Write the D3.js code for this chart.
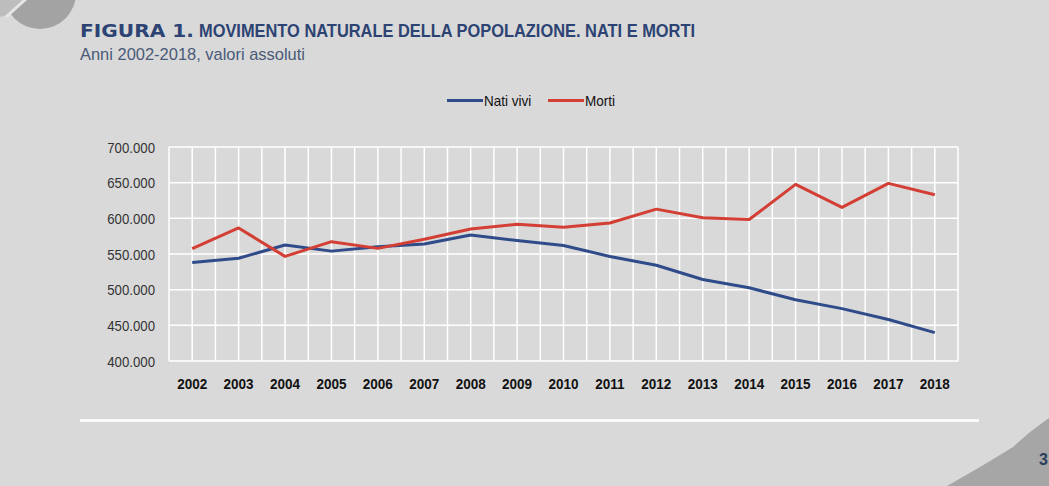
<!DOCTYPE html>
<html><head><meta charset="utf-8">
<script src="https://cdn.jsdelivr.net/npm/d3@7"></script>
<style>
html,body{margin:0;padding:0;background:#d9d9d9;}
svg{display:block;}
</style></head>
<body>
<svg id="chart" width="1049" height="486"></svg>
<script>
const years = ["2002","2003","2004","2005","2006","2007","2008","2009","2010","2011","2012","2013","2014","2015","2016","2017","2018"];
const natiVivi = [538198,544063,562599,554022,560010,563933,576659,568857,561944,546585,534186,514308,502596,485780,473438,458151,439747];
const morti = [557393,586468,546658,567304,557892,570801,585126,591663,587488,593402,612883,600744,598364,647571,615261,649061,633133];
const yTicks = [400000,450000,500000,550000,600000,650000,700000];
const seriesNames = ["Nati vivi","Morti"];
const seriesColors = ["#2f4b8a","#d33f34"];

(function(){
const svg = d3.select("#chart");
const W = 1049, H = 486;
const FONT = "'Liberation Sans','Arial',sans-serif";
function condense(sel, k){
  sel.each(function(){
    const w = this.getComputedTextLength();
    d3.select(this).attr("textLength", w*k).attr("lengthAdjust","spacingAndGlyphs");
  });
}
svg.append("rect").attr("width",W).attr("height",H).attr("fill","#d9d9d9");

// decorative top-left circle
svg.append("circle").attr("cx",40).attr("cy",-7).attr("r",36).attr("fill","#a3a3a3");
svg.append("path").attr("d","M0,-10 L30,-10 L26,0 L8,15 L0,17 Z").attr("fill","#bdbdbd");
svg.append("line").attr("x1",6).attr("y1",17).attr("x2",27).attr("y2",-2).attr("stroke","#e6e6e6").attr("stroke-width",3);

// bottom-right decorative shape
svg.append("path").attr("d","M1049,418 L1030,432 L1013,447 L995,458 L980,467 L947,486 L1049,486 Z").attr("fill","#a6a6a6");

// title
svg.append("text").attr("x",80).attr("y",37).attr("fill","#2c4373")
  .attr("font-family","'DejaVu Sans', sans-serif").attr("font-weight","900").attr("font-size","18.5px")
  .attr("textLength",114).attr("lengthAdjust","spacingAndGlyphs").text("FIGURA 1.");
svg.append("text").attr("x",199).attr("y",37).attr("fill","#2c4373")
  .attr("font-family",FONT).attr("font-weight","bold").attr("font-size","19px")
  .attr("textLength",496).attr("lengthAdjust","spacingAndGlyphs")
  .text("MOVIMENTO NATURALE DELLA POPOLAZIONE. NATI E MORTI");

svg.append("text").attr("x",80).attr("y",60).attr("fill","#4a5a78")
  .attr("font-family",FONT).attr("font-size","17px")
  .attr("textLength",225).attr("lengthAdjust","spacingAndGlyphs")
  .text("Anni 2002-2018, valori assoluti");

// plot
const pL = 169, pR = 958, pT = 147, pB = 361;
const x = d3.scaleBand().domain(years).range([pL,pR]).padding(0);
const y = d3.scaleLinear().domain([400000,700000]).range([pB,pT]);

const g = svg.append("g");
g.selectAll("line.h").data(yTicks).join("line")
  .attr("x1",pL).attr("x2",pR).attr("y1",d=>y(d)).attr("y2",d=>y(d))
  .attr("stroke","#ffffff").attr("stroke-width",1.5);
const vx = [];
years.forEach(yr=>{vx.push(x(yr)); vx.push(x(yr)+x.bandwidth()/2);});
vx.push(pR);
g.selectAll("line.v").data(vx).join("line")
  .attr("x1",d=>d).attr("x2",d=>d).attr("y1",pT).attr("y2",pB)
  .attr("stroke","#ffffff").attr("stroke-width",1.5);

const fmt = d3.formatLocale({decimal:",",thousands:".",grouping:[3],currency:["","€"]}).format(",");
const yl = svg.append("g").selectAll("text").data(yTicks).join("text")
  .attr("x",155).attr("y",d=>y(d)+5.5).attr("text-anchor","end")
  .attr("font-family",FONT)
  .attr("font-size","15px").attr("fill","#333")
  .text(d=>fmt(d));
condense(yl, 0.88);

const xl = svg.append("g").selectAll("text").data(years).join("text")
  .attr("x",d=>x(d)+x.bandwidth()/2).attr("y",389).attr("text-anchor","middle")
  .attr("font-family",FONT)
  .attr("font-weight","bold").attr("font-size","15px").attr("fill","#111")
  .text(d=>d);
condense(xl, 0.9);

const line = d3.line().x((d,i)=>x(years[i])+x.bandwidth()/2).y(d=>y(d));
[natiVivi, morti].forEach((s,i)=>{
  svg.append("path").datum(s).attr("d",line).attr("fill","none")
    .attr("stroke",seriesColors[i]).attr("stroke-width",3).attr("stroke-linejoin","round");
});

const leg = svg.append("g");
const legX = [447, 548];
seriesNames.forEach((n,i)=>{
  leg.append("line").attr("x1",legX[i]).attr("x2",legX[i]+36).attr("y1",100.5).attr("y2",100.5)
    .attr("stroke",seriesColors[i]).attr("stroke-width",3);
  const t = leg.append("text").attr("x",legX[i]+37).attr("y",106)
    .attr("font-family",FONT)
    .attr("font-size","15px").attr("fill","#111").text(n);
  condense(t, 0.9);
});

svg.append("line").attr("x1",80).attr("x2",979).attr("y1",420.5).attr("y2",420.5)
  .attr("stroke","#ffffff").attr("stroke-width",2.5);

svg.append("text").attr("x",1039).attr("y",465)
  .attr("font-family",FONT).attr("font-weight","bold")
  .attr("font-size","16px").attr("fill","#2c3e5c").text("3");
})();
</script>
</body></html>
